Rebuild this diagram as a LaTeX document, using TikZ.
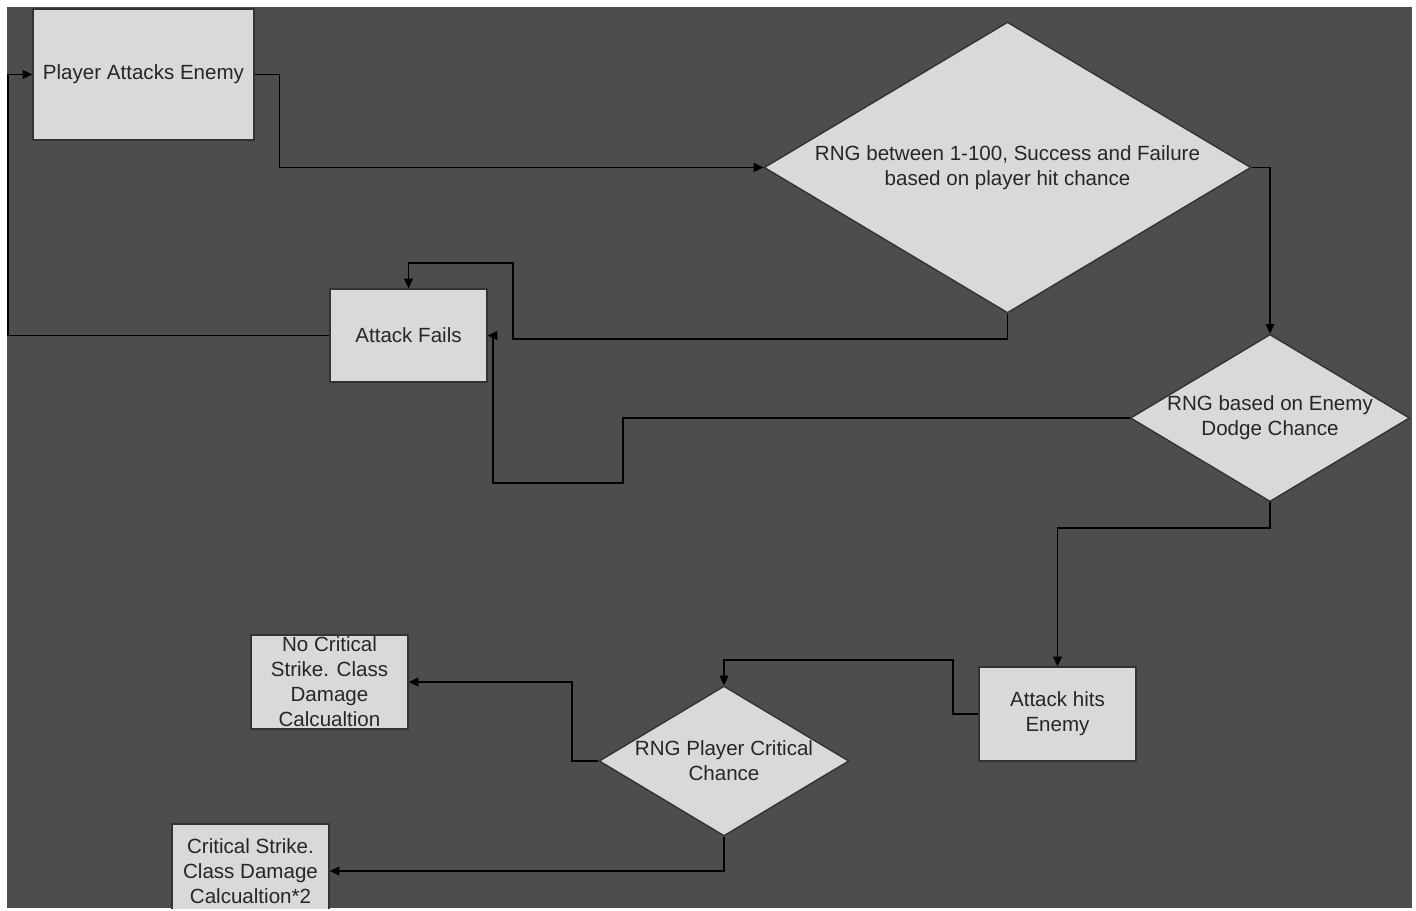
\documentclass[tikz,border=0pt]{standalone}
\usepackage{fontspec}
\setmainfont{Liberation Sans}
\usetikzlibrary{shapes.geometric,arrows.meta}
\definecolor{bgcol}{HTML}{4D4D4D}
\definecolor{boxcol}{HTML}{D9D9D9}

\begin{document}
\begin{tikzpicture}[x=0.02cm, y=-0.02cm,
  box/.style={draw=black!80, fill=boxcol, line width=0.8pt, text=black!85, align=center,
    inner sep=0pt, minimum width=3.14cm, minimum height=1.88cm, font=\fontsize{11.7}{14.2}\selectfont},
  decision/.style={diamond, aspect=1.67, draw=black!80, fill=boxcol, line width=0.8pt, text=black!85, align=center,
    inner sep=0pt, font=\fontsize{11.7}{14.2}\selectfont},
  line/.style={draw=black, line width=0.8pt, -{Triangle[length=5.5pt,width=5pt]}}]
\useasboundingbox (0,0) rectangle (1416,910);
\fill[bgcol] (7,7) rectangle (1412,908);
\clip (7,7) rectangle (1412,908);

\node[box, minimum width=4.42cm, minimum height=2.62cm] (start) at (143.5,74.5) {Player Attacks Enemy};
\node[decision, minimum width=9.74cm, minimum height=5.82cm] (hit) at (1007.5,167.5) {RNG between 1-100, Success and Failure\\based on player hit chance};
\node[box, minimum height=1.86cm] (fails) at (408.5,335.5) {Attack Fails};
\node[decision, minimum width=5.56cm, minimum height=3.32cm] (dodge) at (1270,418) {RNG based on Enemy\\Dodge Chance};
\node[box] (hits) at (1057.5,714) {Attack hits\\Enemy};
\node[decision, minimum width=5cm, minimum height=3cm] (crit) at (724,761) {RNG Player Critical\\Chance};
\node[box, inner ysep=-3pt] (nocrit) at (329.5,682) {No Critical\\Strike. Class\\Damage\\Calcualtion};
\node[box] (critx) at (250.5,871) {Critical Strike.\\Class Damage\\Calcualtion*2};

\draw[line] (fails.west) -- (8,335.5) |- (start.west);
\draw[line] (start.east) -- ++(25,0) |- (hit.west);
\draw[line] (hit.south) |- (513,339) -- (513,263) -| (fails.north);
\draw[line] (hit.east) -| (dodge.north);
\draw[line] (dodge.west) -- (623,418) |- (493,483) |- (fails.east);
\draw[line] (dodge.south) |- (1057.5,528) -- (hits.north);
\draw[line] (hits.west) -| (953,660) -| (crit.north);
\draw[line] (crit.west) -| (572,682) -- (nocrit.east);
\draw[line] (crit.south) |- (critx.east);
\end{tikzpicture}
\end{document}
